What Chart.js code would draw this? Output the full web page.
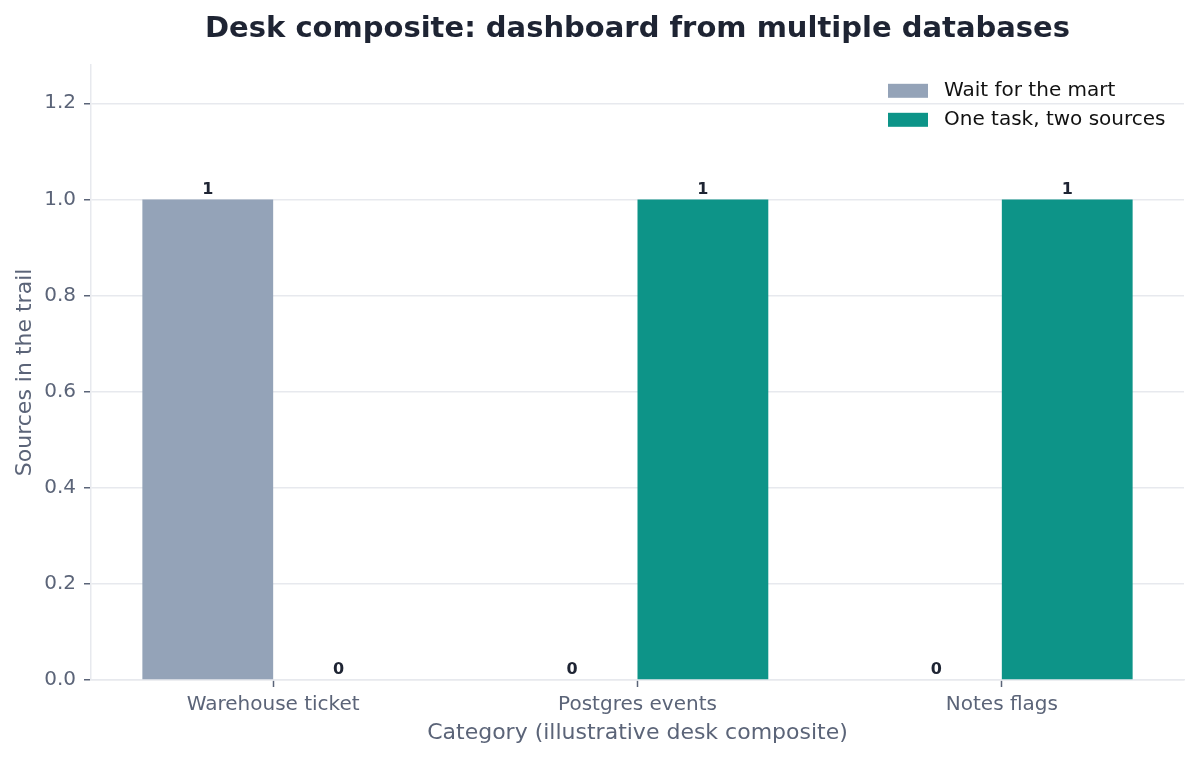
<!DOCTYPE html>
<html>
<head>
<meta charset="utf-8">
<script src="https://cdn.jsdelivr.net/npm/chart.js@4.4.1/dist/chart.umd.min.js"></script>
<style>
  html, body { margin: 0; padding: 0; background: #ffffff; }
  #wrap { width: 1199px; height: 760px; }
</style>
</head>
<body>
<div id="wrap"><canvas id="chart" width="1199" height="760"></canvas></div>
<script>
// data
const categories = ['Warehouse ticket', 'Postgres events', 'Notes flags'];
const waitForMart = [1, 0, 0];
const oneTaskTwoSources = [0, 1, 1];
const seriesNames = ['Wait for the mart', 'One task, two sources'];
const yTicks = [0, 0.2, 0.4, 0.6, 0.8, 1.0, 1.2];

const FONT = '"DejaVu Sans", sans-serif';
const INK = '#1e2433';
const MUTED = '#5b6478';
const GRID = '#e7e9ee';

// value labels above each bar (including zeros)
const barLabels = {
    id: 'barLabels',
    afterDatasetsDraw(chart) {
        const ctx = chart.ctx;
        ctx.save();
        ctx.font = 'bold 16px ' + FONT;
        ctx.fillStyle = INK;
        ctx.textAlign = 'center';
        ctx.textBaseline = 'bottom';
        chart.data.datasets.forEach((ds, i) => {
            chart.getDatasetMeta(i).data.forEach((bar, j) => {
                ctx.fillText(String(ds.data[j]), bar.x, bar.y - 2);
            });
        });
        ctx.restore();
    }
};

// legend drawn inside the plot, top right, stacked
const insideLegend = {
    id: 'insideLegend',
    afterDraw(chart) {
        const ctx = chart.ctx;
        const area = chart.chartArea;
        ctx.save();
        ctx.font = '20px ' + FONT;
        ctx.textBaseline = 'middle';
        ctx.textAlign = 'left';
        const x = area.right - 296;
        chart.data.datasets.forEach((ds, i) => {
            const y = area.top + 26 + i * 29;
            ctx.fillStyle = ds.backgroundColor;
            ctx.fillRect(x, y - 7, 40, 14);
            ctx.fillStyle = '#111111';
            ctx.fillText(ds.label, x + 56, y);
        });
        ctx.restore();
    }
};

new Chart(document.getElementById('chart'), {
    type: 'bar',
    data: {
        labels: categories,
        datasets: [
            { label: seriesNames[0], data: waitForMart, backgroundColor: '#94a3b8' },
            { label: seriesNames[1], data: oneTaskTwoSources, backgroundColor: '#0d9488' }
        ]
    },
    options: {
        responsive: false,
        animation: false,
        devicePixelRatio: 1,
        layout: { padding: { left: 0, right: 15, top: 0, bottom: 0 } },
        datasets: { bar: { categoryPercentage: 0.718, barPercentage: 1.0 } },
        plugins: {
            legend: { display: false },
            tooltip: { enabled: false },
            title: {
                display: true,
                fullSize: false,
                text: 'Desk composite: dashboard from multiple databases',
                color: INK,
                font: { family: FONT, size: 29, weight: 'bold' },
                padding: { top: 12, bottom: 18 }
            }
        },
        scales: {
            x: {
                offset: true,
                border: { color: GRID, width: 1.5 },
                grid: { offset: false, drawOnChartArea: false, drawTicks: true, tickLength: 7, tickColor: MUTED, tickWidth: 1.5 },
                ticks: { color: MUTED, font: { family: FONT, size: 20 }, padding: 6 },
                title: {
                    display: true,
                    text: 'Category (illustrative desk composite)',
                    color: MUTED,
                    font: { family: FONT, size: 22 },
                    padding: { top: 4, bottom: 14 }
                },
                afterFit(scale) { scale.height = 80; }
            },
            y: {
                min: 0,
                max: 1.28,
                border: { color: GRID, width: 1.5 },
                grid: { color: GRID, lineWidth: 1.5, tickLength: 7, tickColor: MUTED, tickWidth: 1.5 },
                afterBuildTicks(scale) { scale.ticks = yTicks.map(v => ({ value: v })); },
                ticks: {
                    color: MUTED,
                    font: { family: FONT, size: 20 },
                    padding: 8,
                    callback: v => Number(v).toFixed(1)
                },
                title: {
                    display: true,
                    text: 'Sources in the trail',
                    color: MUTED,
                    font: { family: FONT, size: 22 },
                    padding: { top: 12, bottom: 0 }
                },
                afterFit(scale) { scale.width = 91; }
            }
        }
    },
    plugins: [barLabels, insideLegend]
});
</script>
</body>
</html>
